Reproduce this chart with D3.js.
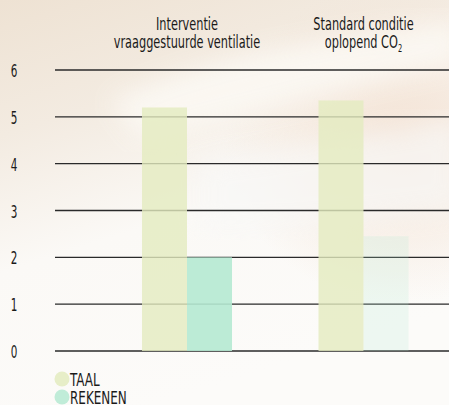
<!DOCTYPE html>
<html>
<head>
<meta charset="utf-8">
<script src="https://d3js.org/d3.v7.min.js"></script>
<style>
  body { margin: 0; background: #fcfbf9; }
  svg { display: block; }
  text { font-family: "DejaVu Sans", sans-serif; font-stretch: condensed; fill: #1a1a1a; }
</style>
</head>
<body>
<svg width="449" height="405"></svg>
<script>
var groups = ["interventie", "standaard"];
var groupLabels = [["Interventie", "vraaggestuurde ventilatie"], ["Standard conditie", "oplopend CO"]];
var series = ["TAAL", "REKENEN"];
var taal = [5.2, 5.35];
var rekenen = [2.0, 2.45];
var yTicks = [0, 1, 2, 3, 4, 5, 6];

var svg = d3.select("svg"),
    width = +svg.attr("width"),
    height = +svg.attr("height");

// squeeze text horizontally to mimic the narrow typeface
function narrow(sel, k) {
    sel.each(function() {
        var w = this.getComputedTextLength();
        d3.select(this).attr("textLength", w * k).attr("lengthAdjust", "spacingAndGlyphs");
    });
}

// background, a soft warm photo look
var defs = svg.append("defs");
var lg = defs.append("linearGradient").attr("id", "bg")
    .attr("x1", 0).attr("y1", 0).attr("x2", 0.35).attr("y2", 1);
lg.append("stop").attr("offset", "0%").attr("stop-color", "#eee2d3");
lg.append("stop").attr("offset", "30%").attr("stop-color", "#f3ebe1");
lg.append("stop").attr("offset", "60%").attr("stop-color", "#fbf9f6");
lg.append("stop").attr("offset", "100%").attr("stop-color", "#fcfbf9");
var rg = defs.append("radialGradient").attr("id", "peach")
    .attr("cx", 0.9).attr("cy", 0.35).attr("r", 0.4);
rg.append("stop").attr("offset", "0%").attr("stop-color", "#f3e1d2").attr("stop-opacity", 0.9);
rg.append("stop").attr("offset", "100%").attr("stop-color", "#f3e1d2").attr("stop-opacity", 0);
defs.append("filter").attr("id", "blur").append("feGaussianBlur").attr("stdDeviation", 12);

svg.append("rect").attr("width", width).attr("height", height).attr("fill", "url(#bg)");
svg.append("rect").attr("width", width).attr("height", height).attr("fill", "url(#peach)");
svg.append("path")
    .attr("d", "M110,100 C200,60 300,40 460,20 L460,65 C330,90 230,120 140,140 Z")
    .attr("fill", "#fcf9f4").attr("opacity", 0.85).attr("filter", "url(#blur)");
svg.append("path")
    .attr("d", "M200,160 C300,150 380,130 460,120 L460,210 C380,220 300,230 200,230 Z")
    .attr("fill", "#f8f8f7").attr("opacity", 0.7).attr("filter", "url(#blur)");

var y = d3.scaleLinear().domain([0, 6]).range([351, 70]);

var x0 = d3.scaleBand().domain(groups)
    .range([98.75, 451.75]).paddingInner(0.49).paddingOuter(0.245);
var x1 = d3.scaleBand().domain(series).range([0, x0.bandwidth()]);

// grid lines
svg.append("g").selectAll("line")
    .data(yTicks)
    .join("line")
    .attr("x1", 55).attr("x2", width)
    .attr("y1", d => y(d)).attr("y2", d => y(d))
    .attr("stroke", "#2a2a2a").attr("stroke-width", 1.3);

// y labels
svg.append("g").selectAll("text")
    .data(yTicks)
    .join("text")
    .attr("x", 14).attr("y", d => y(d) + 7)
    .attr("text-anchor", "middle")
    .attr("font-size", 17)
    .text(d => d)
    .call(narrow, 0.68);

var taalColor = "#e3ebbf", rekenColor = "#b5e9d2";
var rows = groups.map((g, i) => ({ g: g, TAAL: taal[i], REKENEN: rekenen[i] }));

var gBars = svg.append("g").selectAll("g")
    .data(rows)
    .join("g")
    .attr("transform", d => "translate(" + x0(d.g) + ",0)");

gBars.selectAll("rect")
    .data((d, i) => series.map(s => ({ s: s, v: d[s], i: i })))
    .join("rect")
    .attr("x", d => x1(d.s))
    .attr("width", x1.bandwidth())
    .attr("y", d => y(d.v))
    .attr("height", d => y(0) - y(d.v))
    .attr("fill", d => d.s === "TAAL" ? taalColor : rekenColor)
    .attr("fill-opacity", d => d.s === "TAAL" ? 0.8 : (d.i === 1 ? 0.2 : 0.9));

// group labels
var cx = d => x0(d) + x0.bandwidth() / 2;
svg.append("g").selectAll("text")
    .data(groups)
    .join("text")
    .attr("x", cx).attr("y", 30)
    .attr("text-anchor", "middle")
    .attr("font-size", 17)
    .text((d, i) => groupLabels[i][0])
    .call(narrow, 0.74);

var l2 = svg.append("g").selectAll("text")
    .data(groups)
    .join("text")
    .attr("x", cx).attr("y", 48)
    .attr("text-anchor", "middle")
    .attr("font-size", 17)
    .text((d, i) => groupLabels[i][1]);
// subscript 2 of CO2
l2.filter((d, i) => i === 1).append("tspan")
    .attr("font-size", 10).attr("dy", 4)
    .text("2");
l2.call(narrow, 0.74);

// legend
var leg = svg.append("g").selectAll("g")
    .data(series)
    .join("g")
    .attr("transform", (d, i) => "translate(62," + (379 + i * 18) + ")");
leg.append("circle").attr("r", 7.5)
    .attr("fill", d => d === "TAAL" ? taalColor : rekenColor)
    .attr("fill-opacity", 0.85);
leg.append("text").attr("x", 8).attr("y", 7)
    .attr("font-size", 18)
    .text(d => d)
    .call(narrow, 0.74);
</script>
</body>
</html>
